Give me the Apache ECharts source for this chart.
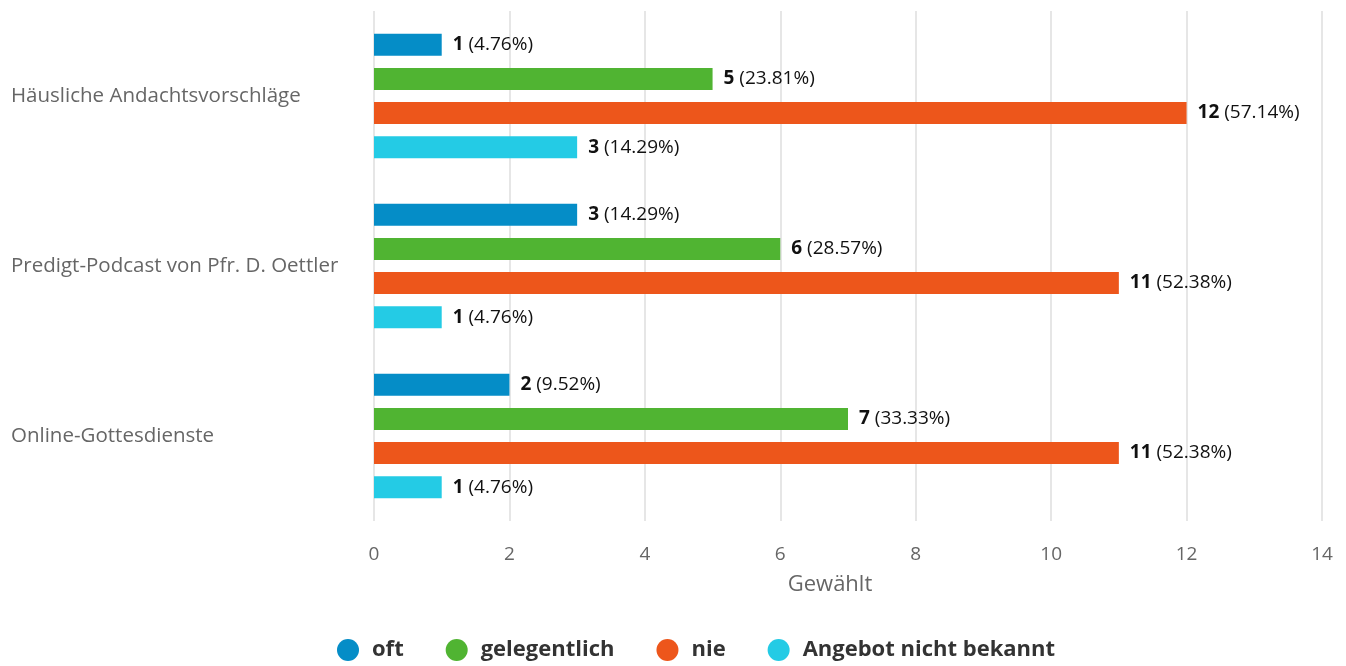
<!DOCTYPE html>
<html>
<head>
<meta charset="utf-8">
<script src="https://cdn.jsdelivr.net/npm/echarts@6/dist/echarts.min.js"></script>
<style>
  html, body { margin: 0; padding: 0; background: #fff; }
  #main { width: 1346px; height: 666px; }
</style>
</head>
<body>
<div id="main"></div>
<script>
// Daten
var categories = ['Häusliche Andachtsvorschläge', 'Predigt-Podcast von Pfr. D. Oettler', 'Online-Gottesdienste'];
var seriesNames = ['oft', 'gelegentlich', 'nie', 'Angebot nicht bekannt'];
var oft = [1, 3, 2];
var gelegentlich = [5, 6, 7];
var nie = [12, 11, 11];
var unbekannt = [3, 1, 1];
var oftPct = ['4.76', '14.29', '9.52'];
var gelegentlichPct = ['23.81', '28.57', '33.33'];
var niePct = ['57.14', '52.38', '52.38'];
var unbekanntPct = ['14.29', '4.76', '4.76'];
var colors = ['#058dc7', '#50b432', '#ed561b', '#24cbe5'];

var values = [oft, gelegentlich, nie, unbekannt];
var pcts = [oftPct, gelegentlichPct, niePct, unbekanntPct];

var myChart = echarts.init(document.getElementById('main'));

var series = seriesNames.map(function (name, i) {
    return {
        name: name,
        type: 'bar',
        barWidth: 22,
        barGap: '55%',
        data: values[i],
        itemStyle: { color: colors[i] },
        label: {
            show: true,
            position: 'right',
            distance: 11,
            formatter: function (p) {
                return '{b|' + p.value + '} (' + pcts[i][p.dataIndex] + '%)';
            },
            fontFamily: 'Open Sans',
            fontSize: 19,
            color: '#111',
            rich: {
                b: { fontFamily: 'Open Sans', fontSize: 19, fontWeight: 'bold', color: '#111' }
            }
        }
    };
});

myChart.setOption({
    color: colors,
    textStyle: { fontFamily: 'Open Sans' },
    animation: false,
    grid: { left: 374, right: 24, top: 11, bottom: 145, containLabel: false },
    legend: {
        bottom: 0,
        left: 332,
        icon: 'circle',
        itemWidth: 22,
        itemHeight: 22,
        itemGap: 42,
        textStyle: {
            fontFamily: 'Open Sans', fontSize: 22, fontWeight: 'bold', color: '#333',
            padding: [0, 0, 0, 8]
        },
        data: seriesNames
    },
    xAxis: {
        type: 'value',
        min: 0,
        max: 14,
        interval: 2,
        name: 'Gewählt',
        nameLocation: 'middle',
        nameGap: 53,
        nameTextStyle: { fontFamily: 'Open Sans', fontSize: 22, color: '#666', padding: [0, 36, 0, 0] },
        axisLine: { show: false },
        axisTick: { show: false },
        axisLabel: { fontFamily: 'Open Sans', fontSize: 19, color: '#666', margin: 24 },
        splitLine: { lineStyle: { color: '#e6e6e6', width: 2 } }
    },
    yAxis: {
        type: 'category',
        inverse: true,
        data: categories,
        axisLine: { show: false },
        axisTick: { show: false },
        axisLabel: {
            fontFamily: 'Open Sans',
            fontSize: 20.5,
            color: '#666',
            align: 'left',
            margin: 363
        }
    },
    series: series
});
</script>
</body>
</html>
